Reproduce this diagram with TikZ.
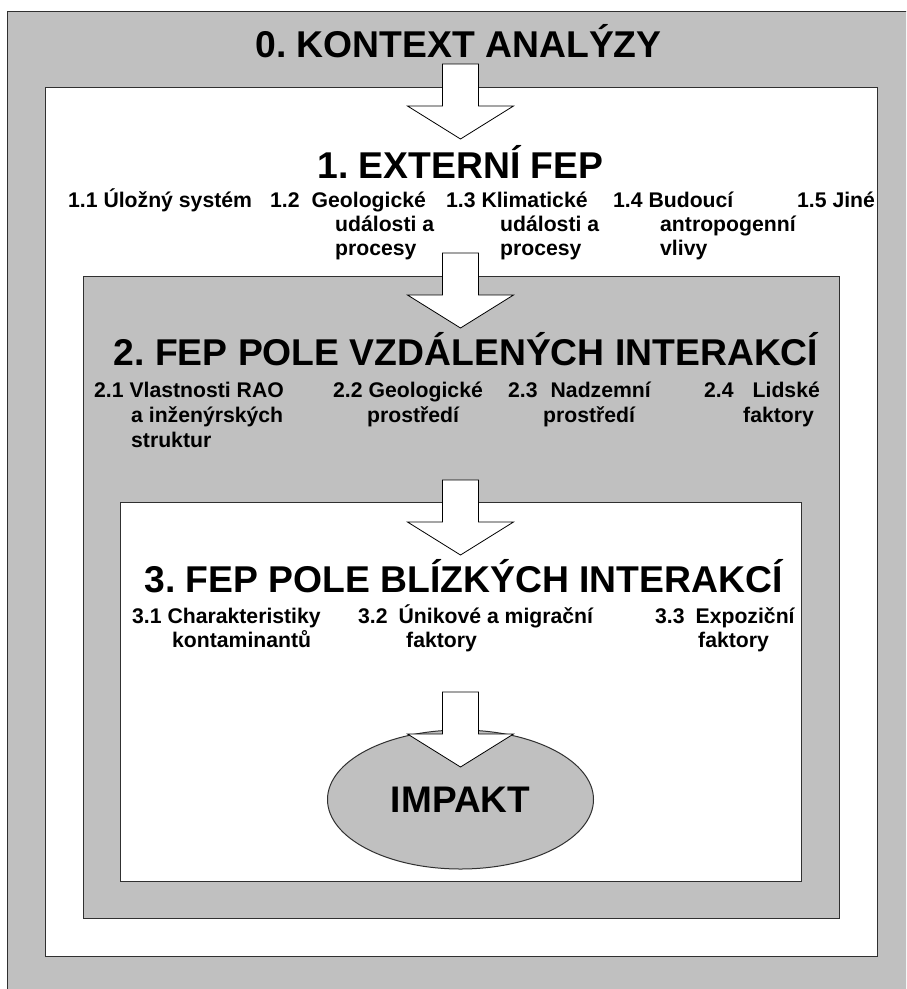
\documentclass[tikz,border=0pt]{standalone}
\usepackage{fontspec}
\setmainfont{Liberation Sans}
\usetikzlibrary{shapes.geometric}
\definecolor{fillgray}{HTML}{C0C0C0}
\definecolor{edge}{HTML}{303030}
\tikzset{
  panelgray/.style={fill=fillgray,draw=edge,line width=1pt},
  panelwhite/.style={fill=white,draw=edge,line width=1pt},
  heading/.style={font=\bfseries\fontsize{37.3}{40}\selectfont,anchor=base,inner sep=0pt},
  item/.style={font=\bfseries\fontsize{21.2}{24}\selectfont,anchor=base west,inner sep=0pt},
  flow/.style={fill=white,draw=black,line width=0.8pt,line join=miter},
  % hollow block arrow pointing down; origin = middle of the top of the shaft
  blockarrow/.pic={
    \path[flow] (-18,0) -- (18,0) -- (18,42) -- (53,42) -- (0,75)
      -- (-53,42) -- (-18,42) -- cycle;
  }
}
\frenchspacing
\begin{document}
\begin{tikzpicture}[x=1pt,y=-1pt]
\useasboundingbox (0,0) rectangle (906,989);
\clip (0,0) rectangle (906,989);

% nested frames
\draw[panelgray]  (7,11)   rectangle (930,1010);
\draw[panelwhite] (45,87)  rectangle (877,956);
\draw[panelgray]  (83,276) rectangle (839,918);
\draw[panelwhite] (120,502) rectangle (801,881);

% level 0
\node[heading] (t0) at (458.5,57) {0. KONTEXT ANALÝZY};

% level 1
\node[heading] (t1) at (460.5,178) {1. EXTERNÍ FEP};
\node[item] (i11)  at (68,207)  {1.1 Úložný systém};
\node[item] (i12)  at (270,207) {1.2\hspace{12pt}Geologické};
\node[item] (i12b) at (335,231) {události a};
\node[item] (i12c) at (335,255) {procesy};
\node[item] (i13)  at (446,207) {1.3 Klimatické};
\node[item] (i13b) at (500,231) {události a};
\node[item] (i13c) at (500,255) {procesy};
\node[item] (i14)  at (613,207) {1.4 Budoucí};
\node[item] (i14b) at (660,231) {antropogenní};
\node[item] (i14c) at (660,255) {vlivy};
\node[item] (i15)  at (797,207) {1.5 Jiné};

% level 2
\node[heading] (t2) at (466,365) {2. FEP POLE VZDÁLENÝCH INTERAKCÍ};
\node[item] (i21)  at (94,397)  {2.1 Vlastnosti RAO};
\node[item] (i21b) at (131,422) {a inženýrských};
\node[item] (i21c) at (131,447) {struktur};
\node[item] (i22)  at (333,397) {2.2 Geologické};
\node[item] (i22b) at (367,422) {prostředí};
\node[item] (i23)  at (508,397) {2.3\hspace{13pt}Nadzemní};
\node[item] (i23b) at (543,422) {prostředí};
\node[item] (i24)  at (704,397) {2.4\hspace{19pt}Lidské};
\node[item] (i24b) at (743,422) {faktory};

% level 3
\node[heading] (t3) at (463.5,592) {3. FEP POLE BLÍZKÝCH INTERAKCÍ};
\node[item] (i31)  at (132,623) {3.1 Charakteristiky};
\node[item] (i31b) at (172,647) {kontaminantů};
\node[item] (i32)  at (358,623) {3.2\hspace{11pt}Únikové a migrační};
\node[item] (i32b) at (406,647) {faktory};
\node[item] (i33)  at (655,623) {3.3\hspace{11pt}Expoziční};
\node[item] (i33b) at (698,647) {faktory};

% result
\node[ellipse,panelgray,minimum width=266pt,minimum height=139pt,inner sep=0pt,
      font=\bfseries\fontsize{37}{40}\selectfont] (imp) at (460.5,799.5) {IMPAKT};

% flow arrows between the levels
\pic (a1) at (460.5,64)  {blockarrow};
\pic (a2) at (460.5,253) {blockarrow};
\pic (a3) at (460.5,480) {blockarrow};
\pic (a4) at (460.5,692) {blockarrow};
\end{tikzpicture}
\end{document}
